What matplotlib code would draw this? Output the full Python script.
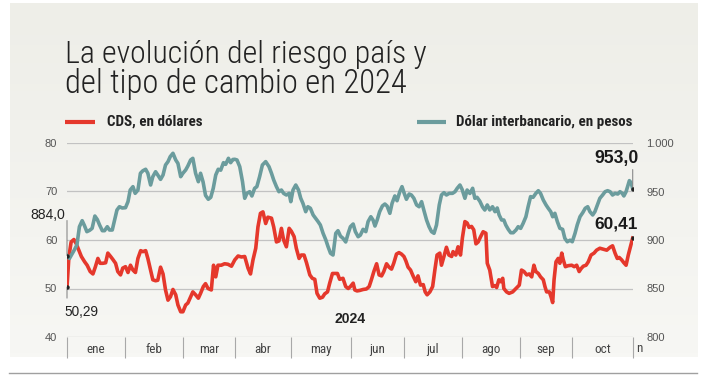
import numpy as np
import matplotlib
matplotlib.use("Agg")
import matplotlib.pyplot as plt
from matplotlib import font_manager
from matplotlib.colors import LinearSegmentedColormap

# trading-day index (0 = 2 ene 2024) and values
cds_day = [0, 0.7, 1.5, 2.5, 3.3, 4.3, 5.2, 6.4, 7.3, 8.4,
           9.4, 10.3, 11.2, 12.0, 13.0, 14.0, 14.8, 15.8, 16.6, 17.6,
           18.4, 19.4, 20.2, 21.2, 22.1, 23.0, 23.9, 24.8, 25.7, 26.7,
           27.5, 28.5, 29.3, 30.3, 31.1, 32.1, 32.9, 33.9, 34.8, 35.7,
           36.6, 37.5, 38.4, 39.4, 40.2, 41.2, 42.0, 43.0, 43.8, 44.8,
           45.6, 46.6, 47.6, 48.4, 49.4, 50.2, 51.1, 52.3, 53.1, 53.9,
           54.7, 55.9, 57.1, 58.3, 59.6, 60.8, 62.0, 63.2, 64.4, 65.6,
           66.5, 67.4, 68.4, 69.2, 70.1, 71.0, 72.0, 72.8, 74.1, 74.9,
           75.9, 76.8, 77.7, 78.5, 79.5, 80.5, 81.3, 82.3, 83.1, 84.1,
           84.9, 85.9, 86.8, 88.0, 88.9, 89.8, 90.6, 91.6, 92.6, 93.4,
           94.4, 95.2, 96.2, 97.0, 98.0, 98.8, 100.0, 101.0, 101.9, 102.7,
           103.7, 104.3, 105.1, 106.1, 107.3, 108.5, 109.5, 110.3, 111.2, 112.2,
           113.1, 114.0, 114.8, 115.8, 116.7, 117.6, 118.4, 119.4, 120.3, 121.2,
           122.1, 122.8, 123.6, 124.5, 125.4, 126.4, 127.2, 128.1, 129.1, 129.8,
           130.5, 131.5, 132.5, 133.3, 134.1, 135.1, 135.7, 136.6, 137.5, 138.4,
           139.4, 139.9, 140.9, 141.7, 142.6, 143.3, 144.2, 145.0, 145.7, 146.6,
           147.4, 148.2, 149.0, 149.9, 150.8, 151.8, 152.3, 153.2, 154.2, 155.1,
           155.7, 156.5, 157.2, 157.9, 158.3, 159.3, 160.2, 161.5, 162.7, 163.9,
           164.7, 165.6, 166.6, 167.5, 168.4, 169.2, 169.9, 170.8, 171.6, 172.6,
           173.2, 173.8, 174.8, 175.4, 176.0, 176.5, 177.2, 178.0, 178.6, 179.3,
           179.8, 180.6, 181.6, 182.9, 183.8, 184.7, 185.6, 186.3, 187.1, 188.1,
           188.9, 189.9, 191.0, 191.9, 193.1, 194.3, 195.6, 196.8, 197.7, 198.6,
           199.4, 200.1, 201.0, 201.8, 202.6, 203.4, 204.3, 205.0]
cds_val = [50.29, 56.6, 59.6, 60.1, 59.3, 57.9, 56.6, 55.5, 54.8, 53.5,
           53.0, 54.5, 56.2, 55.2, 55.2, 55.3, 57.3, 56.6, 56.0, 55.2,
           53.5, 52.8, 54.2, 54.5, 53.3, 54.8, 53.8, 53.3, 56.2, 57.8,
           57.6, 57.8, 56.2, 53.8, 51.8, 51.6, 51.7, 54.4, 53.0, 49.7,
           47.6, 48.3, 49.8, 48.7, 46.6, 45.2, 45.2, 46.6, 47.0, 48.3,
           49.3, 48.7, 48.0, 49.0, 50.4, 51.0, 50.0, 49.7, 54.8, 52.4,
           54.8, 54.8, 55.1, 55.0, 54.6, 55.9, 56.7, 56.5, 56.6, 54.2,
           53.0, 55.9, 58.3, 62.7, 65.5, 65.8, 63.4, 64.7, 64.5, 62.7,
           59.6, 59.8, 62.4, 60.0, 58.6, 62.4, 61.8, 60.7, 58.3, 56.2,
           56.9, 56.9, 55.3, 52.8, 52.1, 51.9, 49.0, 48.0, 48.2, 48.9,
           49.3, 51.1, 53.1, 53.1, 53.1, 51.9, 52.1, 50.4, 50.0, 50.4,
           51.1, 49.7, 49.5, 49.6, 49.8, 49.9, 50.4, 51.8, 53.5, 55.1,
           52.8, 52.6, 53.5, 55.1, 54.4, 54.0, 55.2, 57.1, 57.4, 57.1,
           56.6, 55.7, 54.4, 53.8, 52.6, 51.4, 52.6, 50.7, 50.8, 49.3,
           48.7, 49.3, 50.4, 53.8, 56.9, 57.3, 54.8, 56.6, 58.5, 56.9,
           56.6, 57.6, 56.9, 58.6, 56.9, 60.5, 63.8, 63.5, 62.6, 62.8,
           62.1, 59.2, 59.6, 60.7, 61.7, 61.4, 55.2, 53.8, 50.4, 50.6,
           50.2, 51.8, 51.4, 52.1, 50.0, 49.3, 49.0, 49.3, 50.0, 50.7,
           53.8, 53.5, 52.8, 53.0, 52.4, 54.8, 53.5, 53.1, 52.4, 51.8,
           50.4, 49.3, 49.3, 48.3, 47.1, 51.8, 55.5, 56.2, 55.2, 57.3,
           56.0, 54.5, 54.7, 54.8, 54.5, 54.8, 53.5, 54.1, 54.6, 54.8,
           55.5, 56.9, 57.3, 57.9, 58.3, 58.1, 57.9, 58.5, 58.8, 57.3,
           56.2, 56.4, 55.9, 55.3, 54.8, 56.9, 58.9, 60.41]

usd_day = [0, 0.9, 1.9, 2.7, 3.6, 4.5, 5.5, 6.3, 7.2, 8.2,
           9.1, 10.1, 11.0, 11.8, 12.8, 13.6, 14.6, 15.4, 16.4, 17.2,
           18.1, 19.0, 20.0, 21.2, 22.1, 22.9, 23.9, 24.7, 25.7, 26.6,
           27.5, 28.5, 29.3, 30.3, 31.1, 32.1, 32.9, 33.9, 34.8, 35.7,
           36.6, 37.4, 38.4, 39.4, 40.2, 41.2, 42.0, 43.0, 43.8, 44.8,
           45.6, 46.6, 47.6, 48.4, 49.3, 50.2, 51.2, 52.1, 53.0, 53.9,
           54.8, 55.7, 56.7, 57.5, 58.5, 59.3, 60.1, 60.8, 61.6, 62.6,
           63.6, 64.4, 65.2, 66.2, 67.0, 68.0, 68.8, 69.8, 70.8, 72.0,
           73.2, 74.1, 74.9, 75.9, 76.8, 77.7, 78.5, 79.5, 80.5, 81.1,
           81.9, 82.9, 83.9, 84.7, 85.5, 86.5, 87.3, 88.2, 89.2, 90.1,
           91.0, 91.8, 92.8, 93.8, 94.6, 95.5, 96.4, 97.4, 98.2, 99.1,
           100.0, 101.0, 101.9, 102.7, 103.7, 104.5, 105.5, 106.3, 107.3, 108.3,
           109.1, 110.1, 110.9, 111.6, 112.4, 113.3, 114.3, 115.2, 116.0, 117.0,
           117.8, 118.8, 119.6, 120.6, 121.4, 122.2, 123.0, 124.0, 124.8, 125.7,
           126.7, 127.6, 128.5, 129.3, 130.3, 131.2, 132.1, 133.0, 133.9, 134.9,
           135.7, 136.6, 137.5, 138.5, 139.7, 140.6, 141.4, 142.4, 143.2, 144.2,
           145.0, 146.0, 147.0, 147.8, 148.6, 149.6, 150.6, 151.4, 152.3, 153.2,
           154.2, 155.1, 155.9, 156.6, 157.5, 158.3, 159.0, 159.9, 160.8, 161.7,
           162.7, 163.5, 164.4, 165.3, 166.3, 167.1, 168.0, 168.9, 169.9, 170.8,
           171.6, 172.6, 173.6, 174.4, 175.3, 176.0, 176.8, 177.7, 178.6, 179.6,
           180.4, 181.3, 182.3, 183.1, 184.1, 184.9, 185.9, 186.9, 187.8, 188.7,
           189.5, 190.5, 191.3, 192.2, 193.1, 194.1, 195.0, 195.9, 196.8, 197.7,
           198.6, 199.6, 200.4, 201.2, 201.8, 202.6, 203.2, 203.8, 204.4, 205.0]
usd_val = [884.0, 881.0, 886.0, 890.0, 895.0, 913.7, 919.9, 915.0, 908.6, 910.0,
           912.0, 924.7, 921.0, 915.5, 909.6, 909.6, 913.7, 910.3, 910.3, 919.9,
           930.9, 934.3, 933.0, 933.3, 939.5, 951.5, 955.0, 948.1, 951.5, 968.8,
           971.4, 972.9, 968.8, 956.7, 965.3, 970.4, 967.0, 962.5, 967.0, 977.3,
           980.8, 985.9, 989.4, 982.5, 979.0, 965.3, 968.8, 972.2, 976.3, 982.5,
           984.2, 968.8, 960.1, 968.8, 960.0, 946.0, 942.0, 944.0, 953.3, 967.0,
           972.9, 972.0, 979.7, 978.0, 984.2, 979.7, 983.0, 983.2, 982.5, 975.6,
           960.1, 943.0, 948.1, 949.8, 945.4, 953.3, 955.0, 965.3, 977.3, 980.8,
           975.6, 968.8, 961.9, 955.0, 949.8, 951.5, 948.1, 946.4, 948.1, 939.5,
           951.5, 956.7, 951.5, 943.0, 937.8, 929.2, 934.3, 932.7, 925.8, 922.4,
           918.9, 915.5, 906.9, 900.0, 893.1, 886.3, 884.5, 906.9, 909.6, 904.0,
           901.8, 898.0, 906.9, 913.7, 916.5, 908.6, 903.4, 905.0, 911.0, 908.6,
           918.9, 924.0, 920.6, 914.4, 920.6, 929.2, 935.1, 937.1, 935.0, 927.5,
           937.8, 945.4, 940.5, 949.8, 955.0, 948.1, 942.0, 947.4, 946.4, 943.0,
           936.1, 934.3, 939.5, 930.9, 920.6, 913.7, 908.6, 906.9, 915.5, 936.1,
           946.4, 948.8, 946.4, 948.1, 948.1, 949.8, 953.3, 956.7, 952.0, 943.0,
           951.5, 948.0, 953.3, 943.0, 944.0, 940.0, 934.0, 930.9, 936.1, 931.0,
           934.3, 929.2, 933.0, 925.8, 920.6, 920.6, 915.5, 911.0, 907.5, 907.5,
           910.3, 913.7, 912.0, 917.2, 924.0, 934.3, 944.7, 944.0, 948.1, 950.8,
           948.1, 941.2, 936.1, 932.7, 929.2, 924.0, 927.5, 918.9, 912.1, 911.0,
           901.8, 898.2, 899.8, 898.2, 906.9, 915.5, 924.0, 928.2, 932.7, 934.3,
           929.2, 925.8, 929.2, 936.1, 943.0, 946.4, 949.8, 950.8, 949.8, 946.4,
           948.1, 947.4, 949.8, 948.1, 945.4, 949.8, 955.7, 961.2, 959.1, 953.0]

month_start = [0, 21, 42, 61, 81, 103, 122, 143, 164, 183, 205]
months = ["ene", "feb", "mar", "abr", "may", "jun", "jul", "ago", "sep", "oct"]
left_ticks = [40, 50, 60, 70, 80]
right_ticks = [800, 850, 900, 950, 1000]
right_labels = ["800", "850", "900", "950", "1.000"]

assert len(cds_day) == len(cds_val) and len(usd_day) == len(usd_val)

red = "#e5382c"
teal = "#6b9c9d"

# pick the narrowest sans that is installed
avail = {f.name for f in font_manager.fontManager.ttflist}
def pick(*cands):
    return next((c for c in cands if c in avail), "DejaVu Sans")

narrow = [pick("Roboto Condensed", "Liberation Sans Narrow", "Open Sans Condensed",
               "Roboto", "Liberation Sans"), "DejaVu Sans"]
sans = [pick("Liberation Sans", "Arimo", "Roboto"), "DejaVu Sans"]
plt.rcParams["font.family"] = sans

fig = plt.figure(figsize=(7.06, 3.76), dpi=100)
fig.patch.set_facecolor("white")

# background panel, pixel coordinates
bg = fig.add_axes([0, 0, 1, 1], zorder=-5)
grad = np.linspace(0, 1, 100).reshape(-1, 1)
cmap = LinearSegmentedColormap.from_list("bg", ["#eeeee8", "#f7f7f4"])
bg.imshow(grad, extent=(10, 698, 357, 3), cmap=cmap, aspect="auto")
bg.plot([9, 697], [373, 373], color="#a0a0a0", lw=1)
bg.set_xlim(0, 706)
bg.set_ylim(376, 0)
bg.axis("off")

fitted = []  # (text, wanted width in px)

t = bg.text(65, 63, "La evolución del riesgo país y", fontsize=24, family=narrow,
            weight="light", color="#222222", va="baseline")
fitted.append((t, 362))
t = bg.text(65, 93, "del tipo de cambio en 2024", fontsize=24, family=narrow,
            weight="light", color="#222222", va="baseline")
fitted.append((t, 342))

bg.plot([65, 95], [122, 122], color=red, lw=3, solid_capstyle="butt")
t = bg.text(107, 122, "CDS, en dólares", fontsize=10.5, family=narrow,
            weight="bold", color="#222222", va="center")
fitted.append((t, 96))
bg.plot([417, 446], [122, 122], color=teal, lw=3, solid_capstyle="butt")
t = bg.text(456, 122, "Dólar interbancario, en pesos", fontsize=10.5, family=narrow,
            weight="bold", color="#222222", va="center")
fitted.append((t, 177))

# main axes
ax = fig.add_axes([67 / 706, 39 / 376, 565.7 / 706, 194 / 376])
ax.patch.set_visible(False)
ax.set_xlim(0, 205)
ax.set_ylim(40, 80)
ax.set_yticks(left_ticks)
ax.grid(axis="y", color="#c2c2c2", lw=0.9)
for s in ax.spines.values():
    s.set_visible(False)
ax.tick_params(axis="y", length=0, pad=7, labelsize=8, labelcolor="#555555")

ax.set_xticks(month_start)
ax.set_xticklabels([])
ax.tick_params(axis="x", which="major", length=15, width=0.8, color="#a8a8a8")
mids = [(a + b) / 2 for a, b in zip(month_start[:-1], month_start[1:])]
ax.set_xticks(mids, minor=True)
ax.set_xticklabels(months, minor=True, family=narrow)
ax.tick_params(axis="x", which="minor", length=0, pad=4, labelsize=9.5,
               labelcolor="#444444")
ax.annotate("n", xy=(month_start[-1], 40), xytext=(3, -12),
            textcoords="offset pixels", ha="left", va="center",
            fontsize=9.5, family=narrow, color="#444444")

ax2 = ax.twinx()
ax2.set_ylim(800, 1000)
ax2.set_yticks(right_ticks)
ax2.set_yticklabels(right_labels)
for s in ax2.spines.values():
    s.set_visible(False)
ax2.tick_params(axis="y", length=0, pad=10, labelsize=8, labelcolor="#555555")

ax.plot(cds_day, cds_val, color=red, lw=2.6, solid_joinstyle="round")
ax2.plot(usd_day, usd_val, color=teal, lw=2.6, solid_joinstyle="round")

# start / end markers and labels
line_kw = dict(arrowstyle="-", color="#8a8a8a", lw=0.8, shrinkA=0, shrinkB=0)
ax2.annotate("", xy=(usd_day[0], usd_val[0]), xytext=(0, 35),
             textcoords="offset pixels", arrowprops=line_kw)
t = ax2.annotate("884,0", xy=(usd_day[0], usd_val[0]), xytext=(-2, 41),
                 textcoords="offset pixels", ha="right", va="center",
                 fontsize=10, color="#222222")
fitted.append((t, 35))
ax.annotate("", xy=(cds_day[0], cds_val[0]), xytext=(0, -11),
            textcoords="offset pixels", arrowprops=line_kw)
t = ax.annotate("50,29", xy=(cds_day[0], cds_val[0]), xytext=(-3, -25),
                textcoords="offset pixels", ha="left", va="center",
                fontsize=10, color="#222222")
fitted.append((t, 34))
ax2.annotate("", xy=(usd_day[-1], usd_val[-1]), xytext=(0, 19),
             textcoords="offset pixels", arrowprops=line_kw)
t = ax2.annotate("953,0", xy=(usd_day[-1], usd_val[-1]), xytext=(6, 30),
                 textcoords="offset pixels", ha="right", va="center",
                 fontsize=12, weight="bold", color="#1a1a1a")
fitted.append((t, 44))
t = ax.annotate("60,41", xy=(cds_day[-1], cds_val[-1]), xytext=(5, 14),
                textcoords="offset pixels", ha="right", va="center",
                fontsize=12, weight="bold", color="#1a1a1a")
fitted.append((t, 43))
ax2.plot([usd_day[0], usd_day[-1]], [usd_val[0], usd_val[-1]], "o",
         color="#222222", ms=2.2, zorder=5)
ax.plot([cds_day[0], cds_day[-1]], [cds_val[0], cds_val[-1]], "o",
        color="#222222", ms=2.2, zorder=5)

t = ax.text(0.5, 0.095, "2024", transform=ax.transAxes, ha="center", va="center",
            fontsize=10, weight="bold", color="#222222")
fitted.append((t, 31))

# scale font sizes so each text spans the width it has in the original
fig.canvas.draw()
renderer = fig.canvas.get_renderer()
for t, w in fitted:
    cur = t.get_window_extent(renderer).width
    t.set_fontsize(t.get_fontsize() * w / cur)

fig.savefig("out.png", dpi=100)
